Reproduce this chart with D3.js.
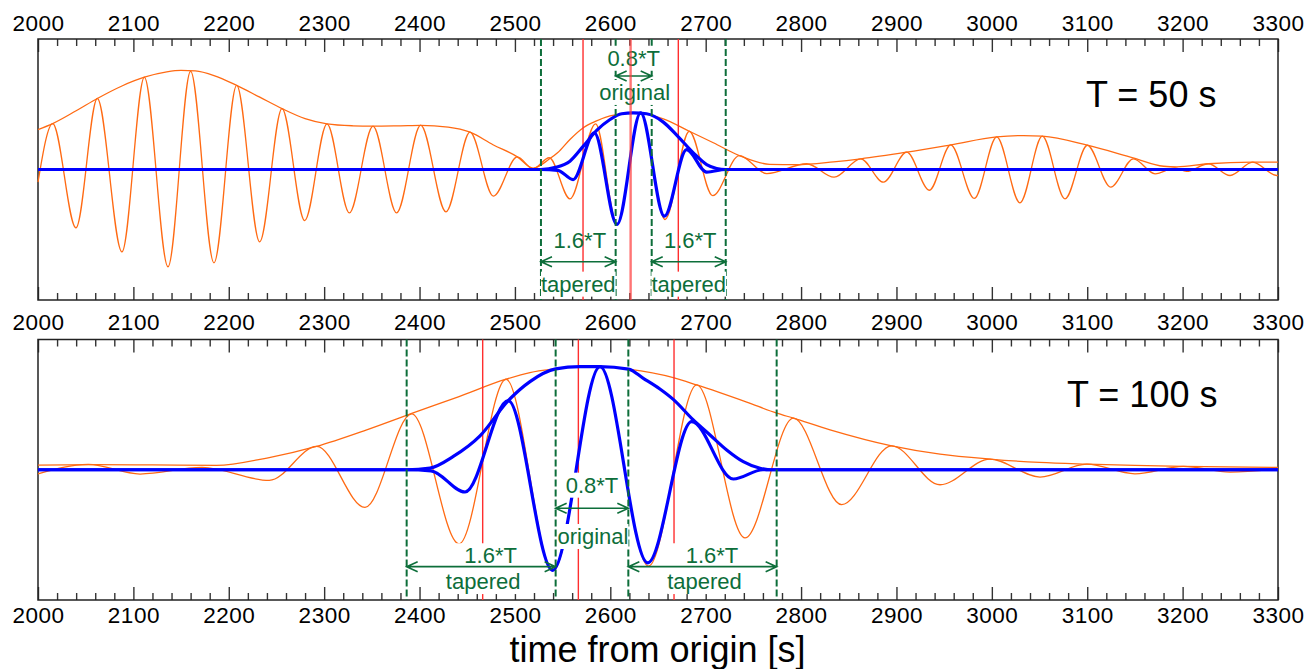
<!DOCTYPE html>
<html><head><meta charset="utf-8">
<script src="https://cdn.jsdelivr.net/npm/d3@7"></script>
<style>
html,body{margin:0;padding:0;background:#fff;}
svg{display:block;font-family:"Liberation Sans",Arial,Helvetica,sans-serif;}
</style></head><body>
<script>
// ---------------- data (time [s], amplitude) ----------------
const majorTicks = [2000,2100,2200,2300,2400,2500,2600,2700,2800,2900,3000,3100,3200,3300];

// T = 50 s : original signal (extrema), its envelope, tapered signal and tapered envelope
const wave50 = [[2000,-0.097],[2015.4,0.352],[2039.8,-0.447],[2062.2,0.544],[2088,-0.631],[2111.5,0.707],[2136.3,-0.746],[2160,0.753],[2184.5,-0.715],[2208.3,0.644],[2232.4,-0.554],[2255.8,0.467],[2279.6,-0.391],[2303,0.35],[2326.4,-0.332],[2351.2,0.332],[2376,-0.332],[2401.2,0.34],[2427.7,-0.324],[2452.9,0.286],[2477.4,-0.204],[2502.5,0.097],[2519,0.005],[2536,0.09],[2557.7,-0.225],[2584.6,0.35],[2607,-0.421],[2631.8,0.434],[2657.4,-0.383],[2682.8,0.293],[2707.3,-0.2],[2735.3,0.107],[2764,-0.031],[2806,0.044],[2834.6,-0.059],[2862.6,0.082],[2886.3,-0.097],[2910.8,0.133],[2934.5,-0.159],[2956.9,0.189],[2981.6,-0.222],[3005.1,0.25],[3029.5,-0.255],[3052.9,0.255],[3076.7,-0.225],[3100.1,0.186],[3124.6,-0.135],[3148.4,0.082],[3171.1,-0.033],[3192,0.012],[3204,-0.015],[3227,0.044],[3249.8,-0.046],[3273.5,0.056],[3298.6,-0.046],[3300,-0.045]];
const env50 = [[2000,0.306],[2015.4,0.352],[2040,0.45],[2062.2,0.544],[2088,0.64],[2111.5,0.707],[2135,0.748],[2150,0.759],[2165,0.755],[2184.5,0.72],[2208.3,0.644],[2232,0.556],[2255.8,0.467],[2280,0.39],[2303,0.35],[2330,0.335],[2351,0.332],[2380,0.335],[2401,0.338],[2430,0.325],[2453,0.286],[2477,0.19],[2502.5,0.097],[2519,0.01],[2536,0.08],[2545,0.13],[2557.7,0.23],[2571.7,0.32],[2585,0.37],[2599.7,0.41],[2624,0.434],[2640,0.42],[2655.6,0.388],[2682.8,0.293],[2708,0.205],[2735.3,0.107],[2767,0.04],[2795,0.038],[2834,0.059],[2862.6,0.082],[2910.8,0.133],[2957,0.189],[3005,0.25],[3033,0.26],[3053,0.255],[3100,0.186],[3148,0.09],[3180,0.025],[3194,0.02],[3227,0.044],[3273,0.056],[3300,0.056]];
const taper50 = [[2000,0],[2527,0],[2545,-0.006],[2561,-0.077],[2583.3,0.281],[2607,-0.421],[2631.8,0.434],[2656.7,-0.358],[2680,0.153],[2701,-0.02],[2721,0],[3300,0]];
const taperEnv50 = [[2000,0],[2527,0],[2543.8,0.018],[2557.7,0.064],[2571.7,0.179],[2585.7,0.299],[2599.7,0.383],[2612,0.427],[2624,0.434],[2638,0.427],[2655.6,0.363],[2671.3,0.25],[2687,0.128],[2701,0.038],[2711.5,0.008],[2721,0],[3300,0]];
const windows50 = [2527.3, 2605.6, 2643.4, 2721];
const redLines50 = [2571.4, 2621.3, 2671.3];

// T = 100 s
const wave100 = [[2000,-0.031],[2052.7,0.041],[2107,-0.033],[2172,0.018],[2242.5,-0.082],[2292.2,0.179],[2342.8,-0.289],[2391.8,0.429],[2441.4,-0.569],[2490.7,0.695],[2540,-0.775],[2589.2,0.792],[2640,-0.74],[2690.6,0.651],[2741.2,-0.523],[2791.9,0.396],[2842.6,-0.268],[2895,0.184],[2945.7,-0.115],[2998,0.082],[3050.5,-0.056],[3099.5,0.043],[3150,-0.031],[3200.8,0.026],[3249.7,-0.018],[3300,0.008]];
const env100 = [[2000,0.036],[2060,0.04],[2120,0.037],[2187,0.033],[2240,0.09],[2292,0.179],[2344.6,0.306],[2391.8,0.432],[2441.4,0.562],[2490.7,0.695],[2515.8,0.746],[2542.8,0.774],[2568,0.792],[2589,0.792],[2619,0.772],[2666,0.707],[2690.6,0.651],[2743,0.519],[2774.5,0.435],[2792,0.396],[2830.4,0.307],[2895,0.184],[2945.7,0.12],[2998,0.082],[3050,0.056],[3099.5,0.043],[3150,0.033],[3200,0.026],[3300,0.018]];
const taper100 = [[2000,0],[2386.5,0],[2412,-0.008],[2447.7,-0.171],[2493,0.531],[2539.6,-0.772],[2589.2,0.792],[2639.2,-0.715],[2685.3,0.369],[2729,-0.071],[2760,0],[3300,0]];
const taperEnv100 = [[2000,0],[2386.5,0],[2411,0.013],[2435.4,0.102],[2463.4,0.26],[2493,0.531],[2515.8,0.677],[2542.8,0.774],[2568,0.792],[2589,0.792],[2619,0.773],[2634.6,0.702],[2652,0.62],[2666,0.54],[2687,0.382],[2704.5,0.267],[2722,0.152],[2739.4,0.062],[2757,0.011],[2767,0],[3300,0]];
const windows100 = [2386.5, 2542.7, 2618.9, 2774.4];
const redLines100 = [2466.2, 2566.5, 2666.8];

const titles = ["T = 50 s", "T = 100 s"];
const xTitle = "time from origin [s]";

// annotation amplitude levels (label baselines / arrow heights)
const ann50 = {narrowText:0.795, narrowSub:0.533, narrowArrow:0.716, wideText:-0.604, wideSub:-0.936, wideArrow:-0.707};
const ann100 = {narrowText:-0.176, narrowSub:-0.570, narrowArrow:-0.296, wideText:-0.718, wideSub:-0.916, wideArrow:-0.744};

// ---------------- drawing ----------------
const W = 1307, H = 669;
const ORANGE = "#ff6a13", BLUE = "#0000ff", GREEN = "#0d6e3a", RED = "#ff2e2e";
const FONT = "Liberation Sans, Arial, Helvetica, sans-serif";
const svg = d3.select("body").append("svg").attr("width", W).attr("height", H);
const x = d3.scaleLinear().domain([2000, 3300]).range([38, 1278]);
const minorTicks = d3.range(2000, 3301, 20).filter(v => v % 100 !== 0);

const panels = [
  {y0:39, y1:300, wave:wave50, env:env50, tw:taper50, te:taperEnv50, win:windows50, red:redLines50, ann:ann50,
   title:titles[0], titleX:1086, titleY:106.7, topPad:8, bottomLabels:false, combined:false, wideDx:1.5, subDx:0},
  {y0:339.5, y1:600, wave:wave100, env:env100, tw:taper100, te:taperEnv100, win:windows100, red:redLines100, ann:ann100,
   title:titles[1], titleX:1067, titleY:406.7, topPad:9.5, bottomLabels:true, combined:true, wideDx:9.5, subDx:2}
];

function styleAxis(g) {
  g.select(".domain").remove();
  g.attr("font-size", 22.5).attr("font-family", FONT);
  g.selectAll(".tick line").attr("stroke", "#333").attr("stroke-width", 1.4);
  g.selectAll(".tick text").attr("fill", "#000").style("letter-spacing", "0.5px");
}

panels.forEach((p, i) => {
  const y = d3.scaleLinear().domain([-1, 1]).range([p.y1, p.y0]);
  const line = d3.line().x(d => x(d[0])).y(d => y(d[1])).curve(d3.curveMonotoneX);
  const g = svg.append("g");

  // axes (ticks inside the frame, top and bottom)
  g.append("g").attr("transform", `translate(0,${p.y0})`)
    .call(d3.axisTop(x).tickValues(minorTicks).tickSize(-7).tickFormat("")).call(styleAxis);
  g.append("g").attr("transform", `translate(0,${p.y0})`)
    .call(d3.axisTop(x).tickValues(majorTicks).tickSize(-13).tickPadding(p.topPad).tickFormat(d3.format("d"))).call(styleAxis);
  g.append("g").attr("transform", `translate(0,${p.y1})`)
    .call(d3.axisBottom(x).tickValues(minorTicks).tickSize(-7).tickFormat("")).call(styleAxis);
  g.append("g").attr("transform", `translate(0,${p.y1})`)
    .call(d3.axisBottom(x).tickValues(majorTicks).tickSize(-13).tickPadding(7)
      .tickFormat(p.bottomLabels ? d3.format("d") : "")).call(styleAxis);

  // frame
  g.append("rect").attr("x", x.range()[0]).attr("y", p.y0)
    .attr("width", x.range()[1] - x.range()[0]).attr("height", p.y1 - p.y0)
    .attr("fill", "none").attr("stroke", "#222").attr("stroke-width", 1.5);

  // original signal + envelope
  g.append("path").datum(p.env).attr("d", line).attr("fill", "none").attr("stroke", ORANGE).attr("stroke-width", 1.3);
  g.append("path").datum(p.wave).attr("d", line).attr("fill", "none").attr("stroke", ORANGE).attr("stroke-width", 1.3);

  // red reference lines (center one handled separately in top panel)
  p.red.forEach((t, k) => {
    if (i === 0 && k === 1) return;
    g.append("line").attr("x1", x(t)).attr("x2", x(t)).attr("y1", p.y0).attr("y2", p.y1)
      .attr("stroke", RED).attr("stroke-width", 1.4);
  });

  // tapered signal + tapered envelope
  g.append("path").datum(p.te).attr("d", line).attr("fill", "none").attr("stroke", BLUE).attr("stroke-width", 3.2).attr("stroke-linejoin", "round");
  g.append("path").datum(p.tw).attr("d", line).attr("fill", "none").attr("stroke", BLUE).attr("stroke-width", 3.2).attr("stroke-linejoin", "round");

  // window boundaries
  p.win.forEach(t => {
    g.append("line").attr("x1", x(t)).attr("x2", x(t)).attr("y1", p.y0).attr("y2", p.y1)
      .attr("stroke", GREEN).attr("stroke-width", 2).attr("stroke-dasharray", "7,3");
  });

  // labels with white boxes
  function label(lines, withBox) {
    const lg = g.append("g");
    const tg = lg.append("g");
    lines.forEach(L => {
      tg.append("text").attr("x", L.x).attr("y", L.y).attr("text-anchor", "middle")
        .attr("font-size", 22).attr("font-family", FONT).attr("fill", GREEN).text(L.text);
    });
    if (withBox) {
      const b = tg.node().getBBox();
      lg.insert("rect", ":first-child").attr("x", b.x).attr("y", b.y).attr("width", b.width).attr("height", b.height).attr("fill", "#fff");
    }
  }
  function arrow(t1, t2, a) {
    const x1 = x(t1), x2 = x(t2), yy = y(a), hl = 11, hw = 5;
    g.append("path")
      .attr("d", `M${x1},${yy}L${x2},${yy}M${x1 + hl},${yy - hw}L${x1},${yy}L${x1 + hl},${yy + hw}M${x2 - hl},${yy - hw}L${x2},${yy}L${x2 - hl},${yy + hw}`)
      .attr("fill", "none").attr("stroke", GREEN).attr("stroke-width", 1.6);
  }
  const [w0, w1, w2, w3] = p.win;
  const mL = x((w0 + w1) / 2), mC = x((w1 + w2) / 2), mR = x((w2 + w3) / 2);
  const A = p.ann;
  label([{text:"0.8*T", x:mC, y:y(A.narrowText)}], true);
  label([{text:"original", x:mC + 1, y:y(A.narrowSub)}], true);
  [mL, mR].forEach(m => {
    if (p.combined) {
      label([{text:"1.6*T", x:m + p.wideDx, y:y(A.wideText)}, {text:"tapered", x:m + p.subDx, y:y(A.wideSub)}], true);
    } else {
      label([{text:"1.6*T", x:m + p.wideDx, y:y(A.wideText)}], false);
      label([{text:"tapered", x:m + p.subDx, y:y(A.wideSub)}], true);
    }
  });
  arrow(w0, w1, A.wideArrow);
  arrow(w1, w2, A.narrowArrow);
  arrow(w2, w3, A.wideArrow);

  if (i === 0) {
    const t = p.red[1];
    g.append("line").attr("x1", x(t)).attr("x2", x(t)).attr("y1", p.y0).attr("y2", p.y1)
      .attr("stroke", "#ff3a3a").attr("stroke-opacity", 0.7).attr("stroke-width", 2.4);
  }

  // panel title
  g.append("text").attr("x", p.titleX).attr("y", p.titleY).attr("font-size", 36).attr("font-family", FONT)
    .attr("fill", "#000").text(p.title);
});

// x-axis title
svg.append("text").attr("x", 657.5).attr("y", 661.5).attr("text-anchor", "middle")
  .attr("font-size", 36).attr("font-family", FONT).attr("fill", "#000").text(xTitle);
</script>
</body></html>
